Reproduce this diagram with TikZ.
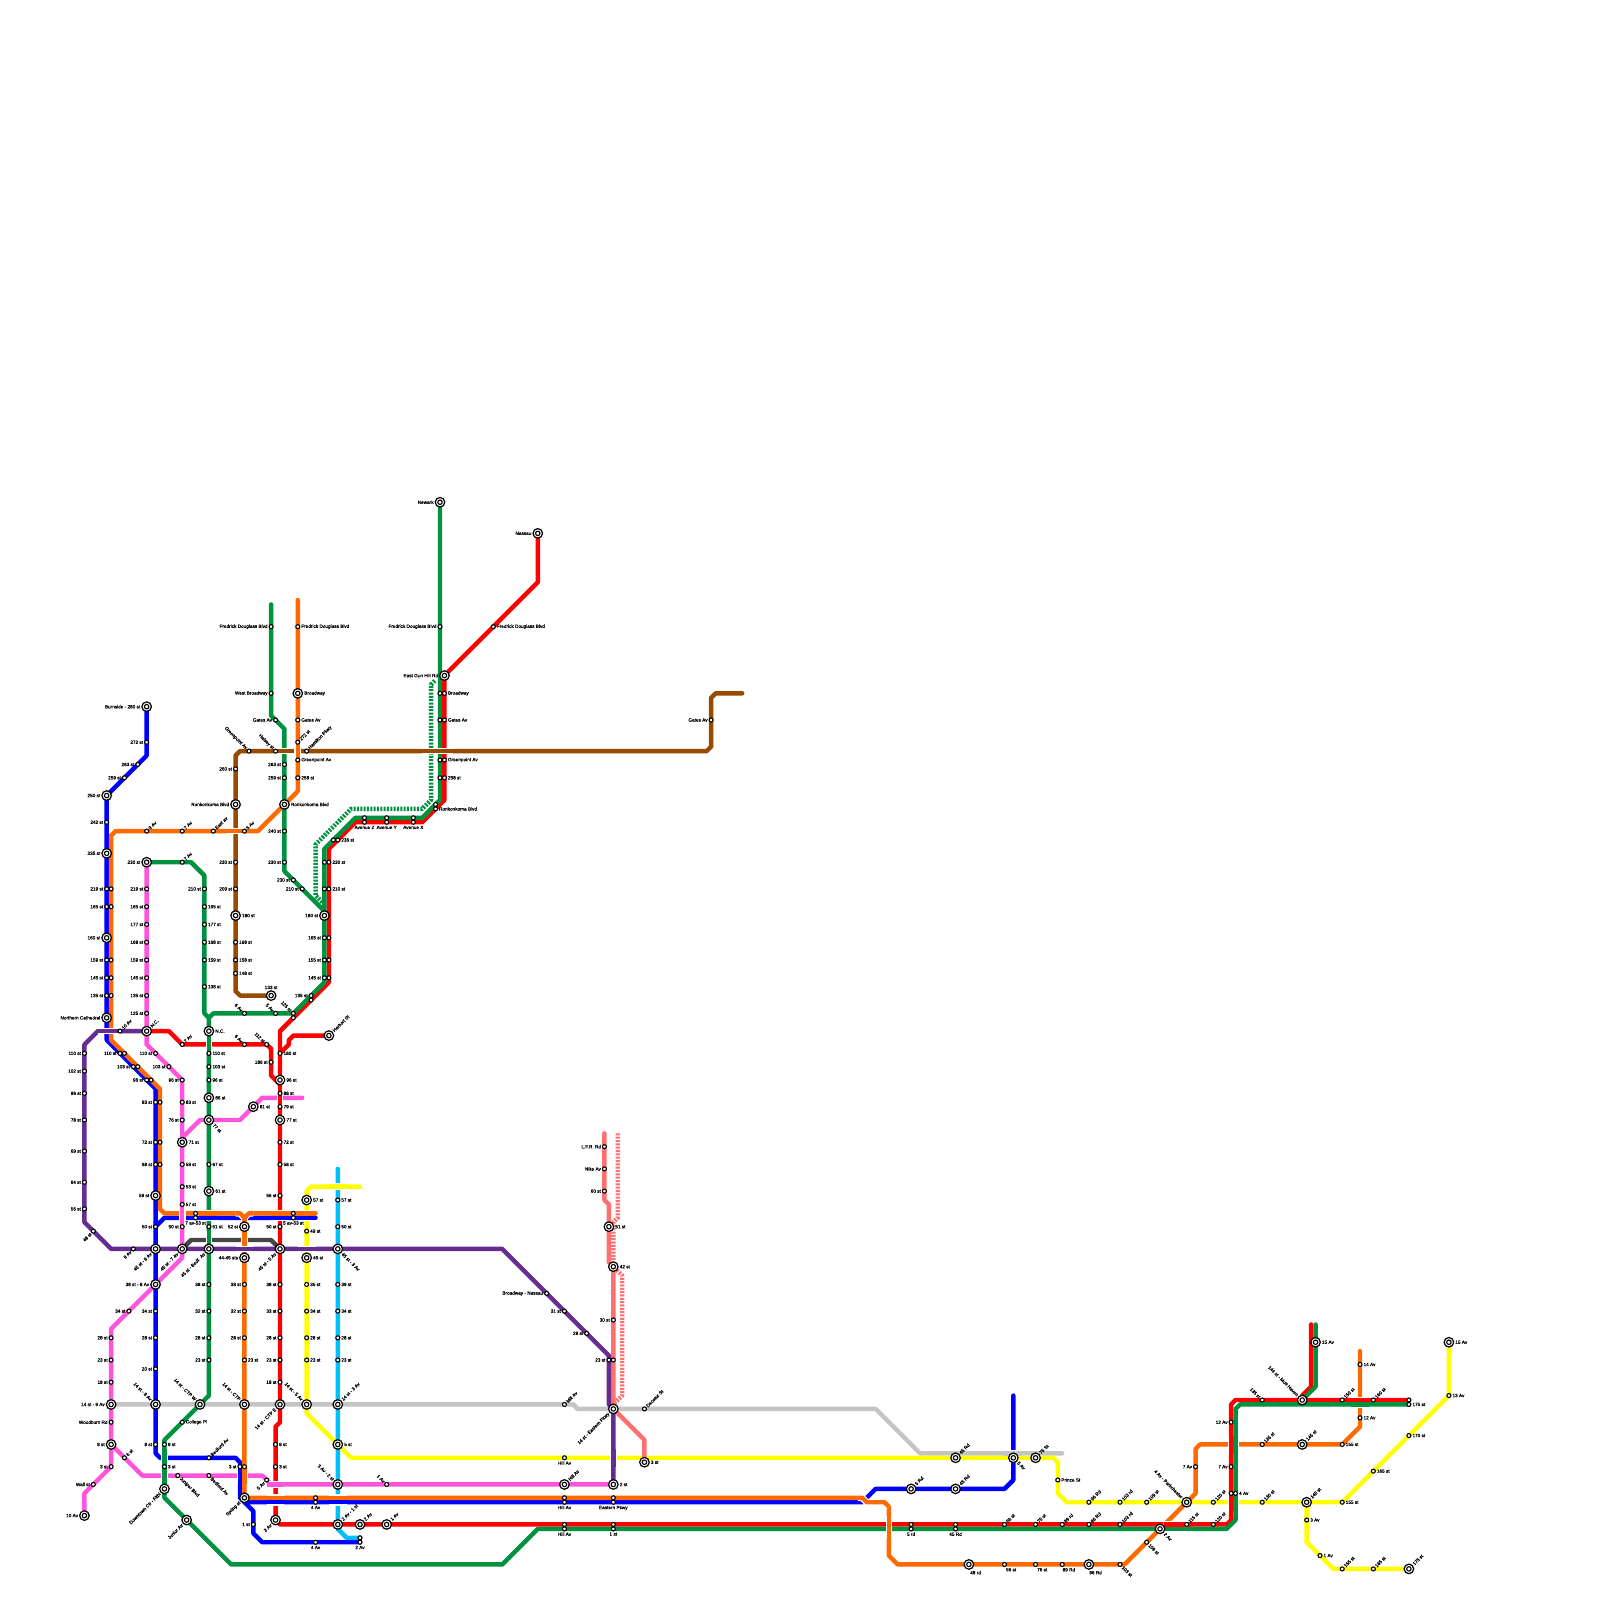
\documentclass[tikz,border=0pt]{standalone}
\usepackage{fontspec}
\setmainfont[FakeBold=0.3]{Liberation Sans}
\usetikzlibrary{positioning}
\definecolor{mRed}{HTML}{FF0000}
\definecolor{mGreen}{HTML}{00923F}
\definecolor{mBlue}{HTML}{0000FF}
\definecolor{mOrange}{HTML}{FF6A00}
\definecolor{mPink}{HTML}{FF55DD}
\definecolor{mBrown}{HTML}{964B00}
\definecolor{mPurple}{HTML}{662D91}
\definecolor{mCyan}{HTML}{00BFFF}
\definecolor{mYellow}{HTML}{FFFF00}
\definecolor{mGray}{HTML}{C4C4C4}
\definecolor{mDark}{HTML}{464646}
\definecolor{mSalmon}{HTML}{FF7070}
\tikzset{
  mline/.style={line width=2pt, line cap=round, line join=round},
  mdots/.style={line width=2pt, line cap=butt, line join=round, dash pattern=on .9pt off .6pt},
  casing/.style={white, line width=3pt, line cap=butt, line join=round},
  over/.style={line width=2pt, line cap=butt, line join=round},
  stn/.style={circle, draw=black, fill=white, line width=.5pt, minimum size=1.8pt, inner sep=0pt, outer sep=0pt},
  hub/.style={circle, draw=black, fill=white, line width=.55pt, minimum size=4.3pt, inner sep=0pt, outer sep=0pt},
  lbl/.style={font=\fontsize{2.1}{2.5}\selectfont, inner sep=0pt, outer sep=0pt, text=black},
  ll/.style={lbl, anchor=east, xshift=-\off},
  rr/.style={lbl, anchor=west, xshift=\off},
  tt/.style={lbl, anchor=south, yshift=\off},
  bb/.style={lbl, anchor=north, yshift=-\off},
  br/.style={lbl, anchor=north, yshift=-\off, xshift=3pt},
  ne/.style={lbl, rotate=45, anchor=west, xshift=\off},
  sw/.style={lbl, rotate=45, anchor=east, xshift=-\off},
  nw/.style={lbl, rotate=-45, anchor=east, xshift=-\off},
  se/.style={lbl, rotate=-45, anchor=west, xshift=\off},
}
% a short piece of a line that passes over another one
\newcommand{\bridge}[2]{\draw[casing] #2; \draw[over,#1] #2;}
\newcommand{\bridgetwo}[4]{\draw[casing] #2; \draw[casing] #4; \draw[over,#1] #2; \draw[over,#3] #4;}
\begin{document}
\begin{tikzpicture}[x=2pt, y=-2pt]
  \useasboundingbox (0,0) rectangle (360,360);
  \fill[white] (0,0) rectangle (360,360);

  % lines
  \draw[mline,mBlue] (228,314) -- (228,333) -- (226,335) -- (197,335) -- (194,338) -- (56,338);
  \draw[mline,mGray] (25,316) -- (129,316) -- (130,317) -- (197,317) -- (207,327) -- (239,327);
  \draw[mline,mDark] (41,281) -- (43,279) -- (61,279) -- (63,281);
  \draw[mline,mYellow] (69,316) -- (69,268) -- (70,267) -- (81,267);
  \draw[mline,mYellow] (69,316) -- (69,318) -- (79,328) -- (237,328) -- (238,329) -- (238,336) -- (240,338) -- (302,338) -- (326,314) -- (326,302);
  \draw[mline,mYellow] (294,338) -- (294,347) -- (300,353) -- (317,353);
  \draw[mline,mCyan] (76,263) -- (76,344) -- (78,346) -- (81,346);
  \draw[mline,mPink] (33,194) -- (33,235) -- (41,243) -- (41,283) -- (25,299) -- (25,330) -- (19,336) -- (19,341);
  \draw[mline,mPink] (41,256) -- (45,252) -- (54,252) -- (59,247) -- (68,247);
  \draw[mline,mPink] (25,325) -- (32,332) -- (59,332) -- (61,334) -- (138,334);
  \draw[mline,mBrown] (61,224) -- (54,224) -- (53,223) -- (53,170) -- (54,169) -- (159,169) -- (160,168) -- (160,157) -- (161,156) -- (167,156);
  \draw[mline,mRed] (121,120) -- (121,131) -- (100,152) -- (100,180) -- (95,185) -- (80,185) -- (74,191) -- (74,221) -- (63,232) -- (63,320) -- (62,321) -- (62,342) -- (63,343) -- (276,343) -- (277,342) -- (277,316) -- (278,315) -- (317,315);
  \draw[mline,mRed] (293,314) -- (295,312) -- (295,298);
  \draw[mline,mRed] (33,232) -- (38,232) -- (41,235) -- (60,235) -- (61,236) -- (61,242) -- (63,244);
  \draw[mline,mRed] (74,233) -- (66,233) -- (65,234) -- (65,235) -- (63,237);
  \draw[mline,mGreen] (99,113) -- (99,180) -- (95,184) -- (80,184) -- (73,191) -- (73,221) -- (66,228) -- (48,228) -- (47,229) -- (47,314) -- (37,324) -- (37,337) -- (52,352) -- (113,352) -- (121,344) -- (276,344) -- (278,342) -- (278,317) -- (279,316) -- (317,316);
  \draw[mline,mGreen] (33,194) -- (43,194) -- (46,197) -- (46,228) -- (47,229);
  \draw[mline,mGreen] (61,136) -- (61,161) -- (64,164) -- (64,196) -- (73,205);
  \draw[mline,mGreen] (293,315) -- (296,312) -- (296,298);
  \draw[mdots,mGreen] (72.5,203) -- (71,201.5) -- (71,190) -- (79,182) -- (95,182) -- (97,180) -- (97,154) -- (98,153);
  \draw[mline,mSalmon] (136,255) -- (136,270) -- (137,271) -- (137,284) -- (138,285) -- (138,317) -- (145,324) -- (145,329);
  \draw[mdots,mSalmon] (139,255) -- (139,274) -- (138,275) -- (138,285) -- (140,287) -- (140,314) -- (138,316);
  \draw[mline,mBlue] (33,159) -- (33,170) -- (24,179) -- (24,234) -- (35,245) -- (35,327) -- (36,328) -- (53,328) -- (54,329) -- (54,337) -- (57,340) -- (57,345) -- (59,347) -- (81,347);
  \draw[mline,mBlue] (35,276) -- (37,274) -- (71,274);
  \draw[mline,mOrange] (33,187) -- (26,187) -- (25,188) -- (25,234) -- (36,245) -- (36,272) -- (37,273) -- (54,273) -- (55,274) -- (56,273) -- (71,273);
  \draw[mline,mOrange] (33,187) -- (58,187) -- (67,178) -- (67,135);
  \draw[mline,mOrange] (55,274) -- (55,337) -- (194,337) -- (195,338) -- (199,338) -- (200,339) -- (200,350) -- (202,352) -- (253,352) -- (269,336) -- (269,326) -- (270,325) -- (302,325) -- (306,321) -- (306,304);
  \draw[mline,mPurple] (33,232) -- (22,232) -- (19,235) -- (19,275) -- (25,281) -- (113,281) -- (137,305) -- (137,316) -- (138,317) -- (138,334);

  % crossings
  \bridge{mBrown}{(62,169) -- (66,169)}
  \bridge{mBrown}{(95,169) -- (102,169)}
  \bridge{mOrange}{(67,167) -- (67,171)}
  \bridge{mOrange}{(51,187) -- (55,187)}
  \bridge{mGreen}{(47,233) -- (47,237)}
  \bridge{mRed}{(63,245) -- (63,249)}
  \bridgetwo{mOrange}{(45,273) -- (49,273)}{mBlue}{(45,274) -- (49,274)}
  \bridgetwo{mOrange}{(61,273) -- (65,273)}{mBlue}{(61,274) -- (65,274)}
  \bridgetwo{mOrange}{(67,273) -- (71,273)}{mBlue}{(67,274) -- (71,274)}
  \bridge{mOrange}{(53,273) -- (54,273) -- (55,274) -- (56,273) -- (57,273)}
  \bridge{mOrange}{(55,274) -- (55,276)}
  \bridge{mPink}{(41,271) -- (41,276)}
  \bridge{mGreen}{(47,277) -- (47,280.4)}
  \bridge{mOrange}{(55,277) -- (55,280.4)}
  \bridge{mPurple}{(53,281) -- (57,281)}
  \bridge{mPurple}{(67,281) -- (71,281)}
  \bridge{mPurple}{(22,232) -- (27,232)}
  \bridge{mPurple}{(138,326) -- (138,330)}
  \bridge{mYellow}{(74,267) -- (78,267)}
  \bridgetwo{mOrange}{(60,337) -- (64,337)}{mBlue}{(60,338) -- (64,338)}
  \bridgetwo{mOrange}{(74,337) -- (78,337)}{mBlue}{(74,338) -- (78,338)}
  \bridge{mPink}{(60,334) -- (64,334)}
  \bridge{mGreen}{(37,326) -- (37,334)}
  \bridgetwo{mBlue}{(54,330) -- (54,334)}{mOrange}{(55,330) -- (55,334)}
  \bridge{mOrange}{(193,337) -- (194,337) -- (195,338) -- (199,338) -- (200,339)}
  \bridge{mOrange}{(200,341) -- (200,346)}
  \bridgetwo{mRed}{(262,343) -- (268,343)}{mGreen}{(262,344) -- (268,344)}
  \bridgetwo{mRed}{(277,323) -- (277,327)}{mGreen}{(278,323) -- (278,327)}
  \bridgetwo{mRed}{(277,336) -- (277,340)}{mGreen}{(278,336) -- (278,340)}
  \bridgetwo{mRed}{(304,315) -- (308,315)}{mGreen}{(304,316) -- (308,316)}
  \bridgetwo{mGray}{(226,327) -- (230,327)}{mYellow}{(226,328) -- (230,328)}

  % interchange stations
  \def\off{2.9pt}
  \foreach \x/\y/\d/\t [count=\i] in {
    33/159/ll/Burnside - 280 st, 24/179/ll/250 st, 24/192/ll/235 st, 24/211/ll/160 st,
    24/229/ll/Northern Cathedral, 33/194/ll/230 st, 33/232/ne/N.C., 47/232/rr/N.C.,
    53/181/ll/Ronkonkoma Blvd, 64/181/rr/Ronkonkoma Blvd, 67/156/rr/Broadway,
    53/206/rr/180 st, 73/206/ll/180 st, 61/224/tt/133 st, 74/233/ne/Harbort St,
    63/243/rr/96 st, 47/247/rr/86 st, 47/252/se/77 st, 57/249/rr/81 st, 63/252/rr/77 st,
    41/257/rr/71 st, 47/268/rr/61 st, 35/269/ll/59 st, 69/270/rr/57 st, 55/276/ll/52 st,
    35/281/sw/45 st - 8 Av, 41/281/sw/45 st - 7 Av, 47/281/sw/45 st - Bedf. Av,
    63/281/sw/45 st - 5 Av, 76/281/se/45 st - 3 Av, 55/283/ll/44-45 sts, 69/283/rr/45 st,
    35/289/ll/38 st - 8 Av, 25/316/ll/14 st - 9 Av, 35/316/nw/14 st - 8 Av,
    45/316/nw/14 st - CTP W, 55/316/nw/14 st - CTP, 63/316/sw/14 st - CTP E,
    69/316/nw/14 st - 5 Av, 76/316/ne/14 st - 3 Av, 25/325/ll/8 st, 76/325/rr/5 st,
    76/334/nw/3 Av - 2 st, 37/335/sw/Downtown Ctr - Fltbl, 42/342/sw/Junior Av,
    19/341/ll/10 Av, 55/337/sw/Spring st, 62/342/sw/3 Av, 76/343/ne/2 Av - 1 st,
    81/343/ne/2 Av, 87/343/ne/1 Av, 99/113/ll/Newark, 121/120/ll/Nassau,
    100/152/ll/East Gun Hill Rd, 137/276/rr/51 st, 138/285/rr/42 st,
    138/317/sw/14 st - Eastern Pkwy, 145/329/rr/3 st, 127/334/ne/Hill Av, 138/334/rr/2 st,
    215/328/ne/45 Rd, 228/328/se/5 Av, 233/328/ne/75 St, 205/335/ne/5 Rd, 215/335/ne/45 Rd,
    267/338/nw/4 Av - Parkchester, 261/344/se/2 Av, 218/352/br/48 rd, 245/352/br/96 Rd,
    296/302/rr/15 Av, 293/315/nw/144 st - Mott Haven, 293/325/ne/145 st, 294/338/ne/145 st,
    317/353/ne/175 st, 326/302/rr/15 Av}
  {
    \node[hub] (hub\i) at (\x,\y) {};
    \node[stn, minimum size=2pt] (core\i) at (hub\i) {};
    \node[\d] (hublab\i) at (hub\i) {\t};
  }

  % plain stations
  \def\off{1.6pt}
  \foreach \x/\y/\d/\t [count=\i] in {
    33/167/ll/272 st, 31/172/ll/263 st, 28/175/ll/259 st, 24/185/ll/242 st,
    24/200/ll/219 st, 24/204/ll/165 st, 24/216/ll/159 st, 24/220/ll/145 st, 24/224/ll/135 st,
    33/187/ne/9 Av, 41/187/ne/7 Av, 48/187/ne/East av, 55/187/ne/5 Av, 41/194/ne/7 Av,
    33/200/ll/219 st, 33/204/ll/165 st, 33/208/ll/177 st, 33/212/ll/168 st, 33/216/ll/159 st,
    33/220/ll/145 st, 33/224/ll/135 st, 33/228/ll/125 st,
    46/200/ll/210 st, 46/204/rr/165 st, 46/208/rr/177 st, 46/212/rr/168 st, 46/216/rr/159 st, 46/222/rr/138 st,
    53/173/ll/260 st, 53/194/ll/230 st, 53/200/ll/209 st, 53/212/rr/168 st, 53/216/rr/158 st, 53/219/rr/148 st,
    56/169/nw/Greenpoint Av, 62/169/nw/Halsey st, 69/169/ne/Hamilton Pkwy, 67/167/ne/272 st,
    67/162/rr/Gates Av, 67/171/rr/Greenpoint Av, 67/175/rr/258 st, 67/141/rr/Fredrick Douglass Blvd,
    61/141/ll/Fredrick Douglass Blvd, 61/156/ll/West Broadway, 62/162/ll/Gates Av,
    64/172/ll/263 st, 64/175/ll/259 st, 64/187/ll/240 st, 64/194/ll/230 st, 66/198/ll/230 st, 68/200/ll/210 st,
    76/189/rr/236 st, 74/194/rr/230 st, 74/200/rr/210 st, 73/211/ll/165 st, 73/216/ll/155 st, 73/220/ll/145 st,
    70/224/ll/135 st, 66/228/nw/125 st, 55/228/nw/6 Av, 62/228/nw/5 Av,
    82/185/bb/Avenue Z, 87/185/bb/Avenue Y, 93/185/bb/Avenue X, 98/182/rr/Ronkonkoma Blvd,
    100/156/rr/Broadway, 100/162/rr/Gates Av, 100/171/rr/Greenpoint Av, 100/175/rr/258 st,
    99/141/ll/Fredrick Douglass Blvd, 111/141/rr/Fredrick Douglass Blvd, 160/162/ll/Gates Av,
    19/237/ll/110 st, 19/241/ll/102 st, 19/246/ll/86 st, 19/252/ll/78 st, 19/259/ll/69 st, 19/266/ll/64 st, 19/272/ll/56 st,
    21/277/sw/48 st, 30/281/sw/9 Av, 27/232/ne/10 Av,
    27/237/ll/110 st, 30/240/ll/103 st, 33/243/ll/96 st,
    35/248/ll/83 st, 35/257/ll/72 st, 35/262/ll/68 st, 35/276/ll/50 st, 35/295/ll/34 st, 35/301/ll/28 st, 35/308/ll/20 st,
    35/325/ll/8 st, 37/325/rr/8 st, 37/330/rr/3 st,
    35/237/ll/110 st, 38/240/ll/103 st, 41/243/ll/96 st, 41/248/rr/83 st, 41/252/ll/76 st,
    41/262/rr/58 st, 41/267/rr/53 st, 41/271/rr/57 st, 41/276/ll/50 st, 29/295/ll/34 st,
    25/301/ll/28 st, 25/306/ll/23 st, 25/311/ll/18 st, 25/320/ll/Woodburn Rd, 25/330/ll/3 st, 21/334/ll/Wall st,
    28/328/ne/6 st, 40/332/se/Juniper Blvd, 47/332/se/Bedford Av, 60/333/sw/5 Av, 87/334/nw/1 Av,
    47/328/ne/Bedford Av, 41/320/rr/College Pl,
    47/237/rr/110 st, 47/240/rr/103 st, 47/243/rr/96 st, 47/262/rr/67 st, 47/276/rr/51 st,
    47/289/ll/38 st, 47/295/ll/32 st, 47/301/ll/28 st, 47/306/ll/23 st,
    44/274/bb/7 av-53 st, 66/274/bb/5 av-53 st,
    55/289/ll/38 st, 55/295/ll/32 st, 55/301/ll/28 st, 55/306/rr/23 st, 54/330/ll/3 st,
    63/237/rr/180 st, 61/239/ll/186 st, 63/246/rr/88 st, 63/249/rr/79 st, 63/257/rr/72 st, 63/262/rr/58 st,
    63/269/ll/56 st, 63/276/ll/50 st, 63/289/ll/38 st, 63/295/ll/33 st, 63/301/ll/28 st, 63/306/ll/23 st, 63/311/ll/18 st,
    62/325/rr/8 st, 62/330/rr/3 st, 41/235/ne/7 Av, 55/235/nw/6 Av, 60/235/nw/112 st,
    69/277/rr/49 st, 69/289/rr/35 st, 69/295/rr/34 st, 69/301/rr/28 st, 69/306/rr/23 st,
    76/270/rr/57 st, 76/276/rr/50 st, 76/289/rr/39 st, 76/295/rr/34 st, 76/301/rr/28 st, 76/306/rr/23 st,
    57/343/ll/1 st, 71/347/bb/4 Av, 81/347/bb/2 Av, 71/338/bb/4 Av,
    127/338/bb/Hill Av, 138/338/bb/Eastern Pkwy, 127/344/bb/Hill Av, 138/344/bb/1 st, 127/328/bb/Hill Av,
    127/316/ne/Mill Av, 145/317/ne/Decatur St,
    136/258/ll/L.F.R. Rd, 136/263/ll/Nike Av, 136/268/ll/60 st, 138/297/ll/30 st, 137/306/ll/23 st,
    123/291/ll/Broadway - Nassau, 127/295/ll/31 st, 132/300/ll/28 st,
    205/344/bb/5 rd, 215/344/bb/45 Rd, 226/343/ne/56 st, 233/343/ne/75 st, 239/343/ne/89 rd, 245/343/ne/96 Rd,
    252/343/ne/103 rd, 267/343/ne/115 st, 273/343/ne/120 st,
    226/352/br/56 st, 233/352/br/76 st, 239/352/br/89 Rd, 252/352/se/103 st, 258/347/se/109 st,
    238/333/rr/Prince St, 245/338/ne/96 Rd, 252/338/ne/103 rd, 258/338/ne/109 st, 273/338/ne/120 st, 284/338/ne/130 st,
    302/338/rr/155 st, 294/342/rr/3 Av, 297/350/rr/1 Av, 302/353/ne/155 st, 309/353/ne/165 st,
    309/331/rr/165 st, 317/323/rr/170 st, 326/314/rr/13 Av,
    269/330/ll/7 Av, 277/330/ll/7 Av, 277/320/ll/12 Av, 278/336/rr/4 Av,
    284/315/nw/135 st, 302/315/ne/150 st, 309/315/ne/160 st, 317/316/rr/175 st,
    306/307/rr/14 Av, 306/319/rr/12 Av, 284/325/ne/135 st, 302/325/rr/155 st}
  {
    \node[stn] (stop\i) at (\x,\y) {};
    \node[\d] (stoplab\i) at (stop\i) {\t};
  }

  % second stops of double stations, the label stands at the other one
  \foreach \x/\y [count=\i] in {
    25/200, 25/204, 25/216, 25/220, 25/224, 75/189, 73/194, 73/200, 74/211, 74/216, 74/220,
    70/225, 66/229, 82/184, 87/184, 93/184, 98/181, 99/156, 99/162, 99/171, 99/175,
    28/237, 31/240, 34/243, 36/248, 36/257, 36/262, 44/273, 66/273, 55/330,
    81/346, 71/337, 127/337, 138/337, 127/343, 138/343, 138/306,
    205/343, 215/343, 277/336, 317/315}
    \node[stn] (twin\i) at (\x,\y) {};
\end{tikzpicture}
\end{document}
